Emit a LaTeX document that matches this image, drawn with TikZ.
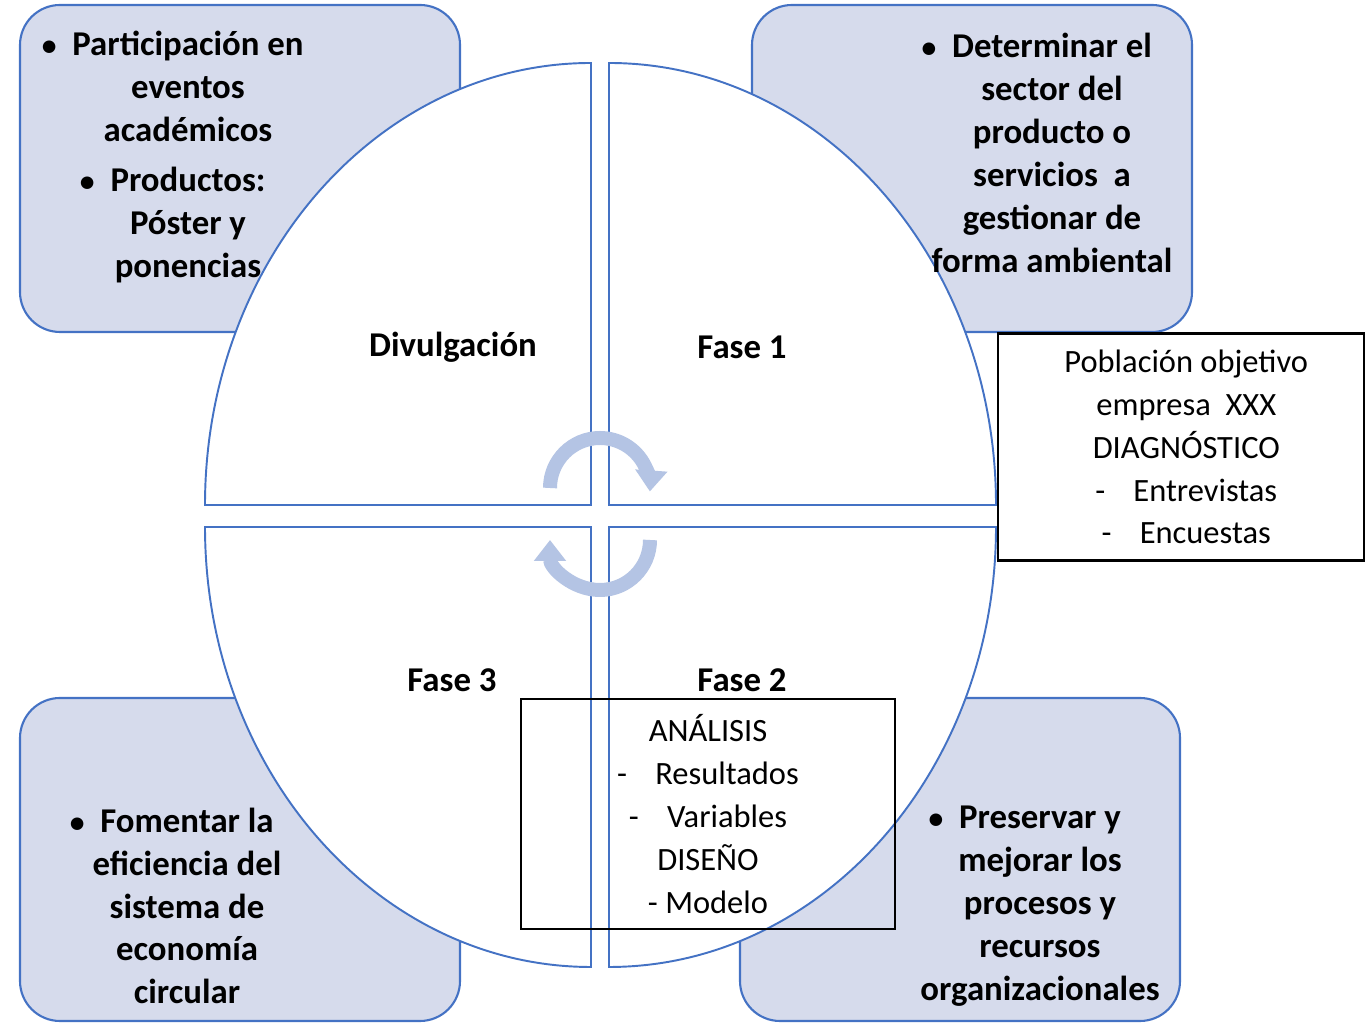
\documentclass[tikz,border=0pt]{standalone}
\usepackage{fontspec}
\setmainfont{Carlito}
\usetikzlibrary{arrows.meta}
\definecolor{lila}{RGB}{214,219,236}
\definecolor{azul}{RGB}{68,114,196}
\definecolor{flecha}{RGB}{180,196,228}
\tikzset{
  fondo/.style={draw=azul, line width=1.2pt, fill=lila, rounded corners=0.8cm},
  cuarto/.style={draw=azul, line width=1.1pt, fill=white},
  giro/.style={draw=flecha, line width=0.28cm, -{Triangle[width=0.62cm,length=0.42cm]}},
  fase/.style={font=\bfseries\fontsize{19.8}{24.4}\selectfont},
  lista/.style={align=center, font=\bfseries\fontsize{19.8}{24.4}\selectfont},
  recuadro/.style={draw=black, line width=1.2pt, align=center, font=\fontsize{18.5}{24.4}\selectfont}
}
\newcommand{\vineta}{\llap{\scalebox{0.85}{\textbullet}\hspace{9pt}}}

\begin{document}
\begin{tikzpicture}[x=0.02cm, y=0.02cm]
\useasboundingbox (0,0) rectangle (1365,1023);
% fondos
\draw[fondo] (20,691) rectangle (460,1018);
\draw[fondo] (752,691) rectangle (1192,1018);
\draw[fondo] (20,2) rectangle (460,325);
\draw[fondo] (740,2) rectangle (1180,325);
% cuadrantes del circulo
\draw[cuarto] (591,518) -- (205,518) arc[start angle=180, end angle=90, x radius=386, y radius=442] -- cycle;
\draw[cuarto] (609,518) -- (609,960) arc[start angle=90, end angle=0, x radius=387, y radius=442] -- cycle;
\draw[cuarto] (591,496) -- (591,56) arc[start angle=270, end angle=180, x radius=386, y radius=440] -- cycle;
\draw[cuarto] (609,496) -- (996,496) arc[start angle=0, end angle=-90, x radius=387, y radius=440] -- cycle;
% flechas de giro
\draw[giro] (550,535) arc[start angle=180, end angle=-4, radius=50];
\draw[giro] (650,483) arc[start angle=0, end angle=-180, radius=50];

\node[fase] (divulga) at (453,676) {Divulgación};
\node[fase] (fase1) at (742,676) {Fase 1};
\node[fase] (fase3) at (452,343) {Fase 3};
\node[fase] (fase2) at (742,343) {Fase 2};

\node[lista] (eventos) at (188,866) {\vineta Participación en\\eventos\\académicos\\[4.5pt]\vineta Productos:\\Póster y\\ponencias};
\node[lista] (sector) at (1052,870) {\vineta Determinar el\\sector del\\producto o\\servicios\ \ a\\gestionar de\\forma ambiental};
\node[lista] (fomentar) at (187,117) {\vineta Fomentar la\\eficiencia del\\sistema de\\economía\\circular};
\node[lista] (preservar) at (1040,117) {\vineta Preservar y\\mejorar los\\procesos y\\recursos\\organizacionales};

\node[recuadro, minimum width=7.32cm, minimum height=4.54cm] (poblacion) at (1181,576)
  {\hspace{6pt}Población objetivo\\\hspace{6pt}empresa\ \ XXX\\\hspace{6pt}DIAGNÓSTICO\\\hspace{6pt}-\hspace{16pt}Entrevistas\\\hspace{6pt}-\hspace{16pt}Encuestas};
\node[recuadro, minimum width=7.48cm, minimum height=4.6cm] (analisis) at (708,209)
  {ANÁLISIS\\-\hspace{16pt}Resultados\\-\hspace{16pt}Variables\\DISEÑO\\- Modelo};
\end{tikzpicture}
\end{document}
